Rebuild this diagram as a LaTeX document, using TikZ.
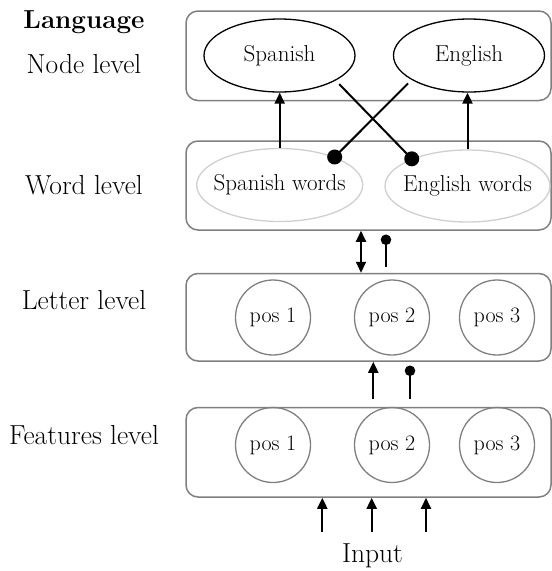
\documentclass[tikz,border=0pt]{standalone}
\usepackage{fontspec}
\usetikzlibrary{arrows.meta,shapes.geometric}
\definecolor{boxgray}{HTML}{7F7F7F}
\definecolor{wordgray}{HTML}{CFCFCF}
\newcommand{\centredtext}[1]{\makebox[0pt][c]{#1}}
\begin{document}
\begin{tikzpicture}[x=1pt,y=-1pt,
  levelbox/.style={draw=boxgray,line width=1.5pt,rounded corners=12pt,
    minimum width=365pt,inner sep=0pt},
  langnode/.style={ellipse,draw=black,line width=1.3pt,inner sep=0pt,
    minimum width=151pt,minimum height=73pt,font=\fontsize{23}{26}\selectfont},
  wordnode/.style={ellipse,draw=wordgray,line width=1.3pt,inner sep=0pt,
    minimum height=73pt,font=\fontsize{23}{26}\selectfont},
  posnode/.style={circle,draw=boxgray,line width=1.3pt,inner sep=0pt,
    minimum size=75pt,font=\fontsize{22}{25}\selectfont},
  levellabel/.style={anchor=base,font=\fontsize{27.5}{31}\selectfont},
  conn/.style={line width=2pt},
  arr/.style={conn,-{Triangle[length=11pt,width=10pt]}},
  dblarr/.style={conn,{Triangle[length=11pt,width=10pt]}-{Triangle[length=11pt,width=10pt]}},
  bigdot/.style={fill=black},
]
\useasboundingbox (0,0) rectangle (552,571);

% level labels on the left
\node[levellabel,font=\bfseries\fontsize{26}{30}\selectfont] (lang) at (84,28) {Language};
\node[levellabel] (lnode) at (84,73) {Node level};
\node[levellabel] (lword) at (84,194) {Word level};
\node[levellabel] (lletter) at (84,309) {Letter level};
\node[levellabel] (lfeat) at (84,444) {Features level};

% level boxes
\node[levelbox,minimum height=89.5pt] (nodebox) at (368.5,55.75) {};
\node[levelbox,minimum height=89pt] (wordbox) at (368.5,185.5) {};
\node[levelbox,minimum height=87.5pt] (letterbox) at (368.5,317.25) {};
\node[levelbox,minimum height=89.5pt] (featbox) at (368.5,452.25) {};

% language nodes
\node[langnode] (sp) at (279.5,55.5) {Spanish};
\node[langnode] (en) at (469,55.5) {English};

% word nodes (text kept from widening the fixed-size ellipse)
\node[wordnode,minimum width=166pt] (sw) at (279.7,185) {\centredtext{Spanish words}};
\node[wordnode,minimum width=165pt,minimum height=72pt] (ew) at (467.5,186) {\centredtext{English words}};

% letter positions
\node[posnode] (l1) at (273,317.5) {pos 1};
\node[posnode] (l2) at (392,317.5) {pos 2};
\node[posnode] (l3) at (497,317.5) {pos 3};

% feature positions
\node[posnode] (f1) at (273,445) {pos 1};
\node[posnode] (f2) at (392,445) {pos 2};
\node[posnode] (f3) at (497,445) {pos 3};

% words to language nodes: excitation
\draw[arr] (sw.north) -- (sw.north |- sp.south);
\draw[arr] (ew.north) -- (ew.north |- en.south);

% language nodes to words of the other language: inhibition
\draw[conn,shorten <=5pt] (sp.-24) -- (ew.154.7);
\fill[bigdot] (ew.154.7) circle (7.5pt);
\draw[conn,shorten <=5pt] (en.-157) -- (sw.27.7);
\fill[bigdot] (sw.27.7) circle (7.5pt);

% word level <-> letter level
\draw[dblarr] ([xshift=-7.5pt]wordbox.south) -- ([xshift=-7.5pt]letterbox.north);
\draw[conn] ([xshift=17.5pt,yshift=-9pt]wordbox.south) -- ([xshift=17.5pt,yshift=5.5pt]letterbox.north);
\fill[bigdot] ([xshift=17.5pt,yshift=-9pt]wordbox.south) circle (5.3pt);

% features level -> letter level
\draw[arr] ([xshift=4.8pt,yshift=7.5pt]featbox.north) -- ([xshift=4.8pt]letterbox.south);
\draw[conn] ([xshift=41.5pt,yshift=-9pt]letterbox.south) -- ([xshift=41.5pt,yshift=7.5pt]featbox.north);
\fill[bigdot] ([xshift=41.5pt,yshift=-9pt]letterbox.south) circle (5.3pt);

% input
\node[levellabel] (input) at (372.5,562) {Input};
\coordinate (in1) at (322.3,532);
\coordinate (in2) at (371.7,532);
\coordinate (in3) at (426,532);
\draw[arr] (in1) -- (in1 |- featbox.south);
\draw[arr] (in2) -- (in2 |- featbox.south);
\draw[arr] (in3) -- (in3 |- featbox.south);
\end{tikzpicture}
\end{document}
